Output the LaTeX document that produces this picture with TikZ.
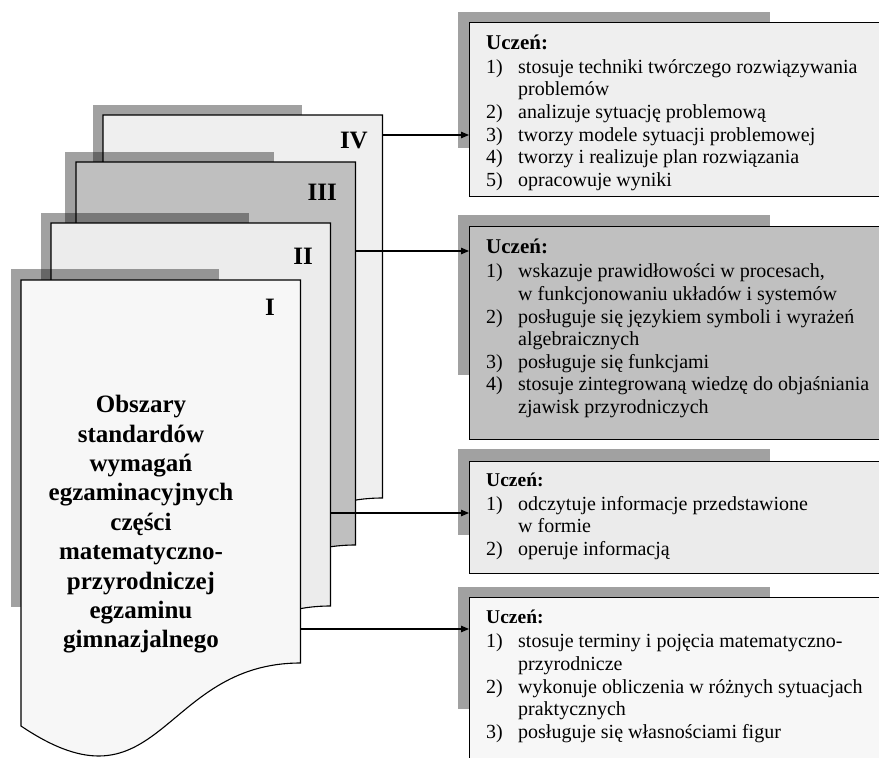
\documentclass[tikz,border=0pt]{standalone}
\usepackage{fontspec}
\setmainfont{Liberation Serif}
\usetikzlibrary{arrows.meta}
\definecolor{pgI}{HTML}{F7F7F7}
\definecolor{pgII}{HTML}{ECECEC}
\definecolor{pgIII}{HTML}{BFBFBF}
\definecolor{pgIV}{HTML}{EFEFEF}
\definecolor{bxA}{HTML}{EFEFEF}
\definecolor{bxB}{HTML}{C0C0C0}
\definecolor{bxC}{HTML}{EBEBEB}
\definecolor{bxD}{HTML}{F7F7F7}
\newcommand{\li}[2]{\makebox[32pt][l]{#1}#2}
\newcommand{\lc}[1]{\hspace*{32pt}#1}
\newcommand{\pagepath}{(0,0) -- (279.5,0) -- (279.5,383) .. controls (139.5,383) and (139.5,540) .. (0,446) -- cycle}
\tikzset{
  shadowrect/.style={fill=black, fill opacity=0.37, draw=none},
  pageshape/.style={draw=black, line width=1.1pt},
  box/.style={draw=black, line width=1.1pt, rectangle, inner sep=0pt, anchor=north west},
  arr/.style={line width=1.1pt, -{Triangle[length=8pt,width=6.5pt]}},
  boxtext/.style={anchor=base west, inner sep=0pt, font=\fontsize{20}{22.6}\selectfont},
  numeral/.style={anchor=base east, inner sep=0pt, font=\bfseries\fontsize{25}{30}\selectfont}
}
\begin{document}
\begin{tikzpicture}[x=1pt,y=-1pt]
\useasboundingbox (0,0) rectangle (879,758);
\clip (0,0) rectangle (879,758);
% ---- stacked pages ----
\begin{scope}[shift={(103,115)}]
  \fill[shadowrect] (-10,-10) rectangle (199,327);
  \filldraw[pageshape, fill=pgIV] \pagepath;
\end{scope}
\begin{scope}[shift={(76,162)}]
  \fill[shadowrect] (-11,-10) rectangle (198,327);
  \filldraw[pageshape, fill=pgIII] \pagepath;
\end{scope}
\begin{scope}[shift={(51,223)}]
  \fill[shadowrect] (-10,-10) rectangle (198,327);
  \filldraw[pageshape, fill=pgII] \pagepath;
\end{scope}
\begin{scope}[shift={(21,280)}]
  \fill[shadowrect] (-10,-11) rectangle (198,327);
  \filldraw[pageshape, fill=pgI] \pagepath;
\end{scope}
\node[numeral] (nIV) at (368,148) {IV};
\node[numeral] (nIII) at (337,200) {III};
\node[numeral] (nII) at (313,264) {II};
\node[numeral] (nI) at (275,315) {I};
\node[anchor=base, inner sep=0pt] (title) at (141,412.6)
  {\bfseries\fontsize{25}{29.4}\selectfont
   \begin{tabular}[t]{@{}c@{}}
   Obszary\\ standardów\\ wymagań\\ egzaminacyjnych\\ części\\ matematyczno-\\ przyrodniczej\\ egzaminu\\ gimnazjalnego
   \end{tabular}};
% ---- right boxes ----
\fill[shadowrect] (458,12) rectangle (770,148);
\node[box, fill=bxA, minimum width=430pt, minimum height=174pt] (b1) at (469,22) {};
\fill[shadowrect] (458,215) rectangle (770,375);
\node[box, fill=bxB, minimum width=430pt, minimum height=213pt] (b2) at (469,226) {};
\fill[shadowrect] (458,449) rectangle (770,535);
\node[box, fill=bxC, minimum width=430pt, minimum height=112pt] (b3) at (469,461) {};
\fill[shadowrect] (458,587) rectangle (770,709);
\node[box, fill=bxD, minimum width=430pt, minimum height=220pt] (b4) at (469,597) {};
\node[boxtext] (t1) at (486,49) {\begin{tabular}[t]{@{}l@{}}
{\bfseries\fontsize{21}{22.6}\selectfont Uczeń:}\\[1.6pt]
\li{1)}{stosuje techniki twórczego rozwiązywania}\\
\lc{problemów}\\
\li{2)}{analizuje sytuację problemową}\\
\li{3)}{tworzy modele sytuacji problemowej}\\
\li{4)}{tworzy i realizuje plan rozwiązania}\\
\li{5)}{opracowuje wyniki}
\end{tabular}};
\node[boxtext] (t2) at (486,253) {\begin{tabular}[t]{@{}l@{}}
{\bfseries\fontsize{21}{22.6}\selectfont Uczeń:}\\[2.2pt]
\li{1)}{wskazuje prawidłowości w procesach,}\\
\lc{w funkcjonowaniu układów i systemów}\\
\li{2)}{posługuje się językiem symboli i wyrażeń}\\
\lc{algebraicznych}\\
\li{3)}{posługuje się funkcjami}\\
\li{4)}{stosuje zintegrowaną wiedzę do objaśniania}\\
\lc{zjawisk przyrodniczych}
\end{tabular}};
\node[boxtext] (t3) at (486,486) {\begin{tabular}[t]{@{}l@{}}
{\bfseries\fontsize{19.5}{22.6}\selectfont Uczeń:}\\[1.6pt]
\li{1)}{odczytuje informacje przedstawione}\\
\lc{w formie}\\
\li{2)}{operuje informacją}
\end{tabular}};
\node[boxtext] (t4) at (486,623) {\begin{tabular}[t]{@{}l@{}}
{\bfseries\fontsize{19.5}{22.6}\selectfont Uczeń:}\\[2.2pt]
\li{1)}{stosuje terminy i pojęcia matematyczno-}\\
\lc{przyrodnicze}\\
\li{2)}{wykonuje obliczenia w różnych sytuacjach}\\
\lc{praktycznych}\\
\li{3)}{posługuje się własnościami figur}
\end{tabular}};
% ---- connectors ----
\coordinate (pIVr) at (383,135);
\coordinate (pIIIr) at (355,251);
\coordinate (pIIr) at (331,513);
\coordinate (pIr) at (301,629);
\draw[arr] (pIVr) -- (b1.west |- pIVr);
\draw[arr] (pIIIr) -- (b2.west |- pIIIr);
\draw[arr] (pIIr) -- (b3.west |- pIIr);
\draw[arr] (pIr) -- (b4.west |- pIr);
\end{tikzpicture}
\end{document}
